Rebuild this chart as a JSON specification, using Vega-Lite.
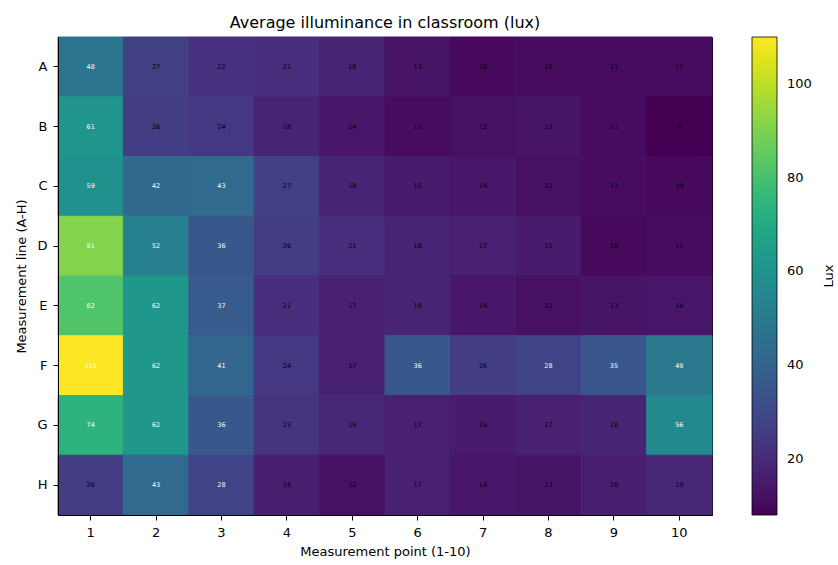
{
  "$schema": "https://vega.github.io/schema/vega-lite/v6.json",
  "width": 654,
  "height": 478,
  "autosize": {"type": "none"},
  "padding": {"left": 58, "top": 37, "right": 126, "bottom": 50},
  "background": "white",
  "config": {
    "font": "DejaVu Sans",
    "view": {"stroke": "black", "strokeWidth": 1},
    "axis": {"labelFont": "DejaVu Sans", "titleFont": "DejaVu Sans", "labelColor": "black", "titleColor": "black", "domainColor": "black", "tickColor": "black", "labelFontSize": 13, "titleFontSize": 13, "titleFontWeight": "normal", "grid": false},
    "legend": {"labelFont": "DejaVu Sans", "titleFont": "DejaVu Sans"}
  },
  "title": {"text": "Average illuminance in classroom (lux)", "fontSize": 16, "fontWeight": "normal", "font": "DejaVu Sans", "color": "black", "offset": 6},
  "data": {"values": [
    {"line":"A","point":1,"lux":48},{"line":"A","point":2,"lux":27},{"line":"A","point":3,"lux":22},{"line":"A","point":4,"lux":21},{"line":"A","point":5,"lux":18},{"line":"A","point":6,"lux":13},{"line":"A","point":7,"lux":10},{"line":"A","point":8,"lux":11},{"line":"A","point":9,"lux":11},{"line":"A","point":10,"lux":11},
    {"line":"B","point":1,"lux":61},{"line":"B","point":2,"lux":26},{"line":"B","point":3,"lux":24},{"line":"B","point":4,"lux":18},{"line":"B","point":5,"lux":14},{"line":"B","point":6,"lux":11},{"line":"B","point":7,"lux":12},{"line":"B","point":8,"lux":13},{"line":"B","point":9,"lux":11},{"line":"B","point":10,"lux":8},
    {"line":"C","point":1,"lux":59},{"line":"C","point":2,"lux":42},{"line":"C","point":3,"lux":43},{"line":"C","point":4,"lux":27},{"line":"C","point":5,"lux":18},{"line":"C","point":6,"lux":15},{"line":"C","point":7,"lux":14},{"line":"C","point":8,"lux":12},{"line":"C","point":9,"lux":11},{"line":"C","point":10,"lux":10},
    {"line":"D","point":1,"lux":91},{"line":"D","point":2,"lux":52},{"line":"D","point":3,"lux":36},{"line":"D","point":4,"lux":26},{"line":"D","point":5,"lux":21},{"line":"D","point":6,"lux":18},{"line":"D","point":7,"lux":17},{"line":"D","point":8,"lux":15},{"line":"D","point":9,"lux":10},{"line":"D","point":10,"lux":11},
    {"line":"E","point":1,"lux":82},{"line":"E","point":2,"lux":62},{"line":"E","point":3,"lux":37},{"line":"E","point":4,"lux":21},{"line":"E","point":5,"lux":17},{"line":"E","point":6,"lux":18},{"line":"E","point":7,"lux":14},{"line":"E","point":8,"lux":12},{"line":"E","point":9,"lux":13},{"line":"E","point":10,"lux":14},
    {"line":"F","point":1,"lux":110},{"line":"F","point":2,"lux":62},{"line":"F","point":3,"lux":41},{"line":"F","point":4,"lux":24},{"line":"F","point":5,"lux":17},{"line":"F","point":6,"lux":36},{"line":"F","point":7,"lux":26},{"line":"F","point":8,"lux":28},{"line":"F","point":9,"lux":35},{"line":"F","point":10,"lux":49},
    {"line":"G","point":1,"lux":74},{"line":"G","point":2,"lux":62},{"line":"G","point":3,"lux":36},{"line":"G","point":4,"lux":23},{"line":"G","point":5,"lux":19},{"line":"G","point":6,"lux":17},{"line":"G","point":7,"lux":15},{"line":"G","point":8,"lux":17},{"line":"G","point":9,"lux":18},{"line":"G","point":10,"lux":56},
    {"line":"H","point":1,"lux":26},{"line":"H","point":2,"lux":43},{"line":"H","point":3,"lux":28},{"line":"H","point":4,"lux":16},{"line":"H","point":5,"lux":12},{"line":"H","point":6,"lux":17},{"line":"H","point":7,"lux":14},{"line":"H","point":8,"lux":13},{"line":"H","point":9,"lux":16},{"line":"H","point":10,"lux":19}
  ]},
  "encoding": {
    "x": {"field": "point", "type": "ordinal", "sort": "ascending", "scale": {"paddingInner": 0, "paddingOuter": 0}, "axis": {"labelAngle": 0, "title": "Measurement point (1-10)", "tickSize": 5, "labelPadding": 6, "titlePadding": 6}},
    "y": {"field": "line", "type": "ordinal", "sort": "ascending", "scale": {"paddingInner": 0, "paddingOuter": 0}, "axis": {"title": "Measurement line (A-H)", "tickSize": 5, "labelPadding": 6, "titlePadding": 8}}
  },
  "layer": [
    {
      "mark": {"type": "rect", "strokeWidth": 1, "stroke": {"expr": "scale('color', datum.lux)"}},
      "encoding": {
        "color": {"field": "lux", "type": "quantitative", "scale": {"scheme": "viridis", "domain": [8, 110]},
          "legend": {"type": "gradient", "title": "Lux", "direction": "vertical", "gradientLength": 478, "gradientThickness": 25, "gradientStrokeColor": "black", "gradientStrokeWidth": 0.8, "values": [20, 40, 60, 80, 100], "labelFontSize": 13, "labelColor": "black", "titleFontSize": 13, "titleFontWeight": "normal", "titleColor": "black", "titleOrient": "right", "titleAnchor": "middle", "titlePadding": 24, "titleBaseline": "bottom", "offset": 40, "padding": 0, "labelOffset": 10, "tickCount": 5,
            "encode": {"title": {"update": {"angle": {"value": -90}}}}}}
      }
    },
    {
      "mark": {"type": "text", "fontSize": 6.5, "font": "DejaVu Sans"},
      "encoding": {
        "text": {"field": "lux", "type": "quantitative"},
        "color": {"condition": {"test": "datum.lux >= 28", "value": "white"}, "value": "black"}
      }
    }
  ]
}
